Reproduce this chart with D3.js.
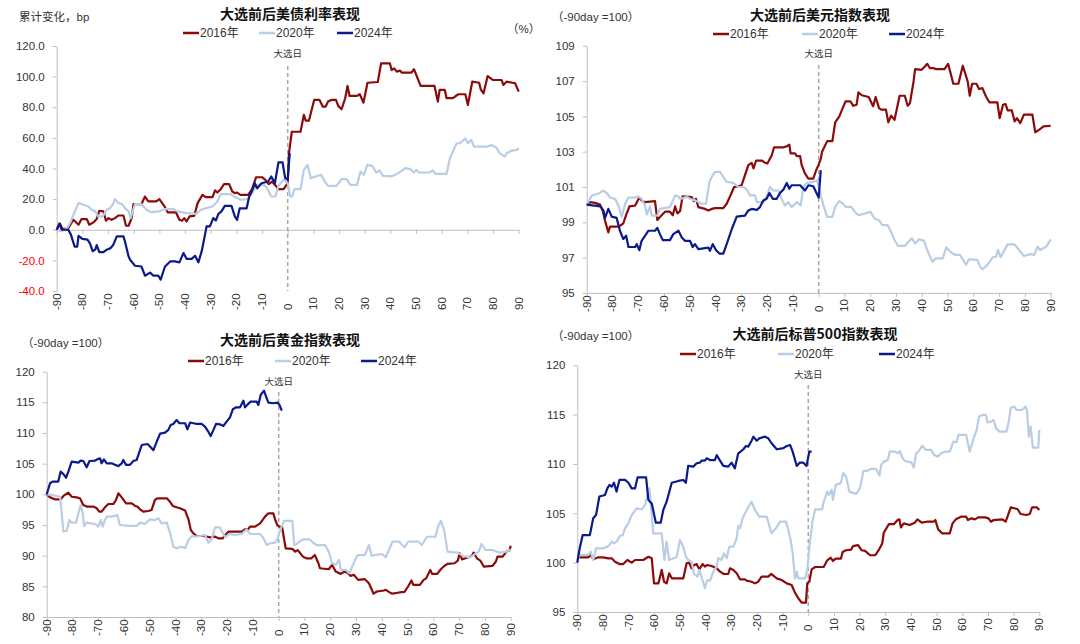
<!DOCTYPE html>
<html><head><meta charset="utf-8">
<script src="https://cdn.jsdelivr.net/npm/d3@7"></script>
<style>
body{margin:0;background:#fff;}
svg{display:block;}
</style></head>
<body><svg id="c" width="1080" height="644"></svg>
<script>
// ---------- DATA ----------
const dayTicks = [-90,-80,-70,-60,-50,-40,-30,-20,-10,0,10,20,30,40,50,60,70,80,90];
const seriesNames = ["2016年","2020年","2024年"];

const bondTicks = [-40,-20,0,20,40,60,80,100,120];
const bond2016 = [[-90,0],[-88.7,4],[-87.7,0.4],[-85.5,1],[-83.5,6.5],[-81.5,3.3],[-80.3,7],[-78.3,7],[-77.3,3.3],[-75.7,4.8],[-74.4,7],[-73.4,12.4],[-71.8,12],[-70.8,5.9],[-69.9,7.6],[-68.6,6.5],[-67.3,7.6],[-66,9.3],[-64,9.3],[-63,2.6],[-62,2.6],[-60.8,7.6],[-60.1,16.7],[-57,16.7],[-55.6,21.7],[-54.3,18.5],[-51.2,18.5],[-50,20],[-48,15.2],[-46.7,11.3],[-43.5,11.3],[-42.2,6.5],[-41.2,5.9],[-40.3,7.6],[-39.4,5.4],[-38.3,8.7],[-36.4,9.1],[-35.1,17.4],[-33.2,22.8],[-31.9,21.3],[-29.3,21.3],[-28.3,25.7],[-27.4,24.3],[-26.1,26.5],[-24.8,29.8],[-22.8,29.8],[-21.6,25],[-20.6,23.9],[-19.7,24.3],[-18.4,22.8],[-15.4,22.8],[-13.9,26.5],[-12.3,34.3],[-10,34.3],[-8.7,32.6],[-7.4,29.8],[-6.1,31.5],[-3.5,26.5],[-1.6,26.5],[0,30.4],[0.5,50],[1.6,64],[5,64],[6.3,75],[7,71.3],[8.3,71.3],[10.3,84.8],[12.4,84.8],[13.7,80.4],[14.8,80.4],[15.7,83.7],[17,84.8],[18.8,84.8],[19.7,80.9],[21,78.7],[22.4,85.9],[23.3,93.9],[24.1,87.4],[27,87.4],[28.1,88.5],[29.5,83],[31.1,96],[35.1,96.5],[36.4,108.7],[39.8,108.7],[40.5,104.3],[41.5,105.4],[42.5,103.3],[43.8,103.9],[44.5,102.6],[48.2,102.6],[49.2,104.8],[51.8,93.9],[57.2,93.9],[58.5,83.7],[59.2,91.3],[61.2,91.3],[61.9,85.9],[64.3,85.9],[65.2,87],[66.5,88.5],[69.2,88.5],[70.2,81.5],[71.9,96.7],[74.6,96],[75.2,91.7],[76.3,89.1],[77.9,100.4],[79.9,97.8],[83.3,97.8],[84,94.6],[85.3,96.7],[88.6,95.7],[90,90.2]];
const bond2020 = [[-90,0],[-88,-1],[-86,1],[-84.8,4.3],[-83.2,10.9],[-81.5,17.4],[-79.6,16.3],[-77.7,15.2],[-76.4,13],[-75,12],[-73.8,8.7],[-72.1,8.7],[-70.5,13],[-69.2,14.1],[-68.2,16.3],[-67.3,20],[-66,17.4],[-64.7,17],[-63.4,14.1],[-62,12],[-61.2,7.6],[-59.5,16.7],[-57,16.7],[-55,13],[-53.1,11.5],[-49.9,12],[-48,13.5],[-44.7,13.5],[-42.9,12],[-39.6,10.9],[-35.7,10.4],[-33.8,13],[-31.8,14.1],[-29.3,15.2],[-27.4,18.5],[-26.1,23.3],[-22.2,23.3],[-20.9,21.7],[-18.4,19.6],[-15.7,20],[-13.8,24.3],[-11.9,29.3],[-9.3,29.3],[-8.1,27.2],[-6.4,21.7],[-4.8,21.7],[-3.6,28.7],[-1.6,32.6],[0,30.4],[1,21.7],[1.7,21.7],[2.7,26.5],[5,26.5],[6.3,39],[7.7,42.4],[9,33.7],[13,35.9],[14.4,31.5],[15.7,28.7],[19,28.7],[21,33],[23,33],[24.4,29.3],[27,29.3],[28.4,38],[29.7,35.9],[31,42.4],[33,41.7],[34.4,37.4],[35.8,38.7],[37.1,35.2],[40.5,34.8],[43.1,37],[45.8,40.2],[47.8,39.6],[49.2,37.4],[50.1,39.1],[51.2,37.4],[55.2,37.4],[56.5,38.7],[57.6,36.5],[61.9,36.5],[63.2,46.7],[65.2,54.3],[65.9,56.5],[67.2,56.5],[69.2,59.8],[70.2,56.5],[71.5,58.7],[72.6,54.3],[77.9,54.3],[79.3,55.4],[81.3,53.7],[82.6,50],[84.6,47.8],[85.3,50],[87.3,51.7],[89.3,52.2],[90,53.3]];
const bond2024 = [[-90,0],[-89,4],[-88,0],[-85.5,0],[-84.5,-3],[-83,-11],[-82,-11],[-81.5,-4],[-80,-6],[-78,-6.5],[-77,-9],[-76,-14],[-75,-13],[-74.4,-10],[-73.4,-14.6],[-71.8,-14.6],[-70.5,-13],[-69,-12],[-68,-10],[-66.6,-4.3],[-64,-4.3],[-63.4,-7.6],[-62,-17.4],[-61.4,-19.6],[-59.5,-23.5],[-57,-24],[-55.6,-30],[-53.6,-28],[-52.3,-30],[-50.4,-30],[-49.5,-32.6],[-47.8,-24],[-45.8,-20.7],[-43.9,-20.7],[-42.2,-21.3],[-40.6,-15.2],[-39.4,-19],[-37.4,-19],[-36.1,-17],[-34.8,-21.3],[-33.5,-14],[-32.6,-6.5],[-31.6,2.2],[-30.3,2.2],[-29,7.6],[-28,6],[-27,10.4],[-25.8,12],[-24.5,15.6],[-21.9,15.6],[-20.6,8.7],[-19.7,6.5],[-18.7,14],[-16,14],[-15,21.7],[-14,25],[-12.8,30.4],[-11.9,27],[-10.2,30.4],[-7.6,31.5],[-6.4,34.8],[-5,30.4],[-3.6,44],[-2,44],[-1,33.7],[0,33],[0.8,50]];

const usdTicks = [95,97,99,101,103,105,107,109];
const usd2016 = [[-90,100],[-88.7,100.14],[-86.8,100.1],[-84.8,100],[-83.8,99.67],[-82.9,99.1],[-81.6,98.43],[-81,98.75],[-78.4,98.75],[-77.1,98.8],[-75.8,98.94],[-74.5,99.5],[-73.4,99.9],[-71.2,99.95],[-69.6,100.4],[-68.7,100.24],[-67.4,100.14],[-63.5,100.2],[-62.6,99.13],[-61.6,99.3],[-59.6,99.6],[-57.7,99.6],[-56.6,99.4],[-55.7,99.9],[-54.8,99.5],[-53.8,99.63],[-52.8,100.47],[-49.3,100.43],[-48.4,100.2],[-47.6,100.33],[-46.7,99.86],[-44.1,99.76],[-42.8,99.67],[-41.5,99.76],[-40.2,99.8],[-37,99.8],[-35.7,100.05],[-34.4,100.47],[-32.8,101],[-31.2,101.04],[-29.9,101.1],[-28.6,101.67],[-27.3,102.24],[-26,102.37],[-25.3,102.05],[-24.3,102.5],[-22.1,102.5],[-20.8,102.37],[-19.9,102.33],[-18.2,102.8],[-17.3,103.25],[-13.7,103.25],[-12.4,103.3],[-11.4,103.4],[-10.9,102.9],[-9.2,102.9],[-8.5,102.75],[-7.2,102.75],[-6.6,102.24],[-5.3,101.76],[-4,101.48],[-2.1,101.48],[-1,101.95],[-0.1,102.24],[0.8,102.6],[1.3,103],[3.3,103.6],[5.3,103.6],[6.4,104.66],[8,105],[10.4,105.85],[12.3,105.85],[13.4,105.6],[14.7,105.66],[15.4,106.36],[16.7,106.2],[19.4,106.1],[21.1,105.57],[22.1,106.1],[23.4,105.47],[24.3,105.38],[26.1,105.38],[27,104.66],[28.1,105.04],[29.4,104.8],[31.4,106.17],[33.4,106.17],[34.5,105.6],[35.4,105.75],[36.8,106.98],[37.4,107.68],[39.9,107.64],[41.2,107.83],[42.1,107.98],[43.1,107.74],[44.4,107.74],[45.5,107.68],[48.8,107.68],[50.2,107.98],[51.5,107.26],[52.2,106.85],[54.2,106.85],[55.9,107.87],[56.8,107.45],[57.8,106.98],[58.6,106.17],[59.5,106.85],[61.2,106.85],[62.2,106.55],[63.5,106.6],[64.9,106.13],[66.2,105.8],[69.3,105.8],[70.2,104.9],[71.5,105.66],[72.5,105.7],[73.3,105.34],[74.9,105.34],[76,104.72],[76.9,104.9],[78.2,104.62],[79.6,105.1],[82.9,105.1],[84,104.1],[85.6,104.25],[87.2,104.43],[90,104.47]];
const usd2020 = [[-90,100],[-88,100.52],[-85.5,100.62],[-83.5,100.8],[-82.2,100.66],[-80.9,100.4],[-79,100.33],[-77.7,99.95],[-76.4,99.32],[-75.1,100.05],[-73.8,100.4],[-71.2,100.4],[-70,100.47],[-68.7,100.33],[-67.4,99.95],[-66.7,99.44],[-65.4,99.9],[-64.8,99.38],[-62.6,99.38],[-61.6,99.76],[-57.7,99.86],[-55.7,100.52],[-54.4,100.47],[-53.8,100.33],[-51.2,100.43],[-49.9,100.33],[-47.3,100.2],[-45.4,100.05],[-43.7,100.05],[-42.4,101.29],[-41.5,101.57],[-40.2,101.86],[-38.3,101.86],[-37,101.57],[-35.7,101.29],[-33.1,101.23],[-31.2,101],[-29.2,101],[-27.9,100.85],[-26.6,100.52],[-24.7,100.52],[-24,100.14],[-21.5,100.14],[-20.2,100.47],[-18.9,101],[-17.6,100.8],[-15.6,100.8],[-14.4,100.33],[-13.1,99.95],[-11.8,100.14],[-10.5,99.86],[-8.5,100.14],[-7,99.95],[-5.9,101],[-4.7,101.23],[-2.1,101.29],[-0.5,101.38],[0.5,100.71],[2,99.87],[3.3,99.31],[5.3,99.31],[6.4,99.87],[8,100.2],[9.4,100.06],[10.4,99.87],[12.7,99.87],[14,99.6],[15.4,99.4],[18,99.5],[20.1,99.6],[21.7,99.2],[23.4,99.12],[24.7,98.84],[26.7,98.84],[28.1,98.46],[29.4,98],[30.8,97.66],[33.4,97.66],[34.5,97.85],[36.1,98.1],[37.4,97.8],[38.8,98.03],[40.8,97.96],[42.1,97.43],[44.1,96.77],[45.5,96.96],[48.1,96.96],[49.5,97.58],[51.5,97.28],[52.8,97.15],[54.8,97.15],[55.9,96.9],[57.2,96.59],[58.2,96.9],[61.5,96.87],[62.6,96.5],[63.5,96.34],[65.5,96.59],[67.5,97.02],[68.9,97.06],[69.5,97.43],[70.6,97.02],[71.5,97.28],[73.3,97.75],[76,97.75],[78.2,97.34],[79.6,97.09],[82.2,97.2],[83.6,97.15],[84.9,97.62],[85.9,97.43],[88.3,97.62],[90,98.03]];
const usd2024 = [[-90,100],[-84.8,99.9],[-83.5,99.67],[-82.9,99.25],[-81.6,99.76],[-80.3,99.32],[-78.4,99.25],[-77.1,98.52],[-75.8,98.05],[-74.7,98.24],[-73.8,97.6],[-71.2,97.6],[-70.6,97.76],[-69.6,97.42],[-68.7,97.95],[-66.1,98.52],[-63.5,98.52],[-62.6,98.68],[-61.6,98.33],[-60.5,97.99],[-57.7,97.99],[-56.4,98.33],[-54.4,98.52],[-53.1,98.14],[-51.9,97.95],[-49.9,97.95],[-48.9,97.6],[-48,97.76],[-46.7,97.48],[-42.8,97.57],[-42.2,97.38],[-41.1,97.76],[-39.8,97.42],[-38.5,97.23],[-37,97.23],[-35.7,97.76],[-33.7,98.62],[-31.8,99.32],[-28.6,99.38],[-27.3,99.67],[-26,99.76],[-24,99.7],[-22.8,99.86],[-21.5,100.24],[-20.2,100.33],[-19.1,100.66],[-17.8,100.33],[-16.3,100.33],[-15,100.66],[-13.7,100.85],[-12.4,101.23],[-11.4,100.9],[-10.5,101.1],[-7.2,101.1],[-6.6,101],[-5.3,100.8],[-4,101.1],[-2.1,101.04],[-1,100.7],[0,100.4],[0.8,101.95]];

const goldTicks = [80,85,90,95,100,105,110,115,120];
const gold2016 = [[-90,100],[-88.7,99.5],[-86.8,99.18],[-84.6,99.18],[-83.5,99.73],[-81.6,100.27],[-80.3,99.6],[-78.4,99.5],[-77.1,99.35],[-75.8,98.26],[-74.5,98],[-71.9,98],[-70.6,97.72],[-69.6,97.17],[-68.7,97.17],[-67.4,97.88],[-66.1,98.42],[-64.1,98.42],[-63.1,99.08],[-62.2,100.16],[-60.9,99.5],[-59.2,98.53],[-57,98.53],[-55.7,98.1],[-54.8,98],[-53.8,97.55],[-52.5,97.17],[-50.6,97.28],[-49.3,97.45],[-48,99.08],[-47.1,99.35],[-43.4,99.35],[-42.2,98.8],[-41.1,98.1],[-39.6,97.88],[-38.3,97.72],[-36.3,97.34],[-35,95.92],[-34.1,94.18],[-33.1,93.64],[-31.8,93.2],[-29.2,93.2],[-26.6,92.99],[-24.7,93.1],[-23.4,92.83],[-21.7,92.83],[-20.8,93.37],[-19.5,93.9],[-14.4,93.9],[-13.1,94.3],[-11.8,94.35],[-11.1,94.73],[-9.2,94.73],[-7.2,95.27],[-5.3,96.36],[-4,96.9],[-2.1,96.9],[-1.4,95.92],[-0.5,94.95],[0.3,94.73],[1.3,94.7],[2.7,91.2],[5.3,91.1],[6.4,90.65],[7.4,90.9],[9.4,89.84],[10.7,89.57],[12.7,89.57],[14,90.1],[15.4,88.76],[16,87.95],[19.4,87.78],[20.7,88.5],[22.1,87.4],[24.1,87.03],[25.4,87.4],[26.7,87.24],[27.8,86.7],[29.2,86.86],[30.8,86.05],[33.4,86.16],[35,85.5],[36.8,83.8],[38.1,84.16],[40.8,84.32],[41.5,84.43],[43.5,83.9],[44.1,83.8],[46.8,84],[48.8,84.1],[50.2,84.97],[51.5,85.95],[52.2,85.24],[54.8,85.24],[56.2,86.05],[57.2,86.3],[58.8,87.68],[59.5,87.03],[61.5,87.03],[62.9,87.78],[64.2,88.32],[65.5,88.65],[68.2,88.76],[69.5,89.2],[70.2,90.4],[71.1,89.4],[73.6,89.73],[74.9,89.95],[75.6,90.5],[76.9,89.57],[78.2,89.2],[79.6,88.2],[82.9,88.32],[84.2,89],[84.9,89.84],[86.9,89.84],[88.3,90.65],[89.6,90.9],[90,91.6]];
const gold2020 = [[-90,100],[-88,99.9],[-84.8,99.6],[-83.5,93.9],[-82.2,94.07],[-81.2,95.8],[-80.3,95.38],[-78.6,95.38],[-77.7,96.9],[-76.8,98.26],[-76,96.9],[-75.5,94.84],[-74.5,95.38],[-71.2,95.16],[-70,94.73],[-69,95.8],[-68.3,94.73],[-67.4,95.8],[-66.7,96.36],[-64.8,96.36],[-62.6,96.63],[-61.6,95],[-57.7,94.84],[-55.1,94.84],[-53.8,95.38],[-51.9,95.16],[-49.9,95.92],[-48,95.8],[-46.7,96.1],[-45.4,95.27],[-43.4,95.38],[-41.9,93.37],[-40.9,91.47],[-39.6,91.2],[-37.6,91.47],[-36.3,91.2],[-35,92.55],[-33.7,93.2],[-32.5,93.1],[-30.5,93.2],[-28.6,93.37],[-27.3,92.12],[-26,92.66],[-24.7,94.6],[-22.8,94.6],[-20.8,92.99],[-19.1,93.53],[-16.9,93.37],[-14.4,93.53],[-12.4,94.3],[-11.1,93.53],[-7.2,93.53],[-5.9,92.83],[-4.7,91.74],[-3.4,92],[-1.4,92.12],[-0.5,92.66],[0.4,93.9],[2,95.68],[5.3,95.68],[6,91.73],[7,91.9],[8,92.27],[9.4,92.65],[12,92.65],[13.4,92.1],[14.7,91.73],[18,91.73],[19.4,90.65],[20.7,88.76],[22.1,88.5],[23.4,89.3],[24.1,87.68],[26.1,87.68],[27.4,87.14],[28.8,88.5],[30.1,89.73],[30.8,90.1],[33.4,90.1],[35,91.73],[36.1,89.95],[37.4,90.1],[40.1,90.27],[41.5,89.73],[42.8,90.92],[44.1,92.27],[46.8,92.27],[48.8,91.35],[50.2,92.27],[54.2,92.27],[55.5,91.73],[57.5,93.08],[60.8,93.08],[61.8,94.7],[62.9,95.68],[64.2,94.16],[65.5,90.65],[69.5,90.5],[71.5,89.95],[74.2,89.73],[77.6,90.65],[78.7,91.9],[80.2,90.92],[82.9,90.92],[85.6,90.5],[88.3,90.65],[90,91]];
const gold2024 = [[-90,100],[-88.7,101.8],[-87.7,102.07],[-85.5,102.07],[-84.6,103.7],[-83.5,103.3],[-82.5,102.7],[-81.6,103.7],[-80.3,105.33],[-77.7,105.16],[-76.8,105.5],[-75.8,105.43],[-74.5,104.4],[-73.4,105.43],[-71.2,105.5],[-70.3,105.7],[-69.3,105.87],[-68.7,105.05],[-67.8,105.7],[-66.7,105.05],[-64.8,105.05],[-63.5,104.8],[-62.2,104.6],[-60.9,105.05],[-60.3,105.6],[-59.2,104.8],[-57.7,104.8],[-56.4,105.43],[-55.1,105.6],[-54,106.96],[-53.1,108.04],[-50.9,108.2],[-50.2,107.9],[-48.6,107.2],[-47.3,108.6],[-46,109.9],[-44.1,110.05],[-42.8,110.5],[-41.9,111.3],[-40.9,111.47],[-39.6,112.1],[-38.5,111.58],[-36.3,111.58],[-35.4,110.6],[-34.4,111.7],[-33.1,111.58],[-31.8,111.47],[-29.9,111.47],[-28.6,111.03],[-27.3,110.2],[-26.4,109.5],[-25.3,110.5],[-24.3,111.47],[-22.8,111.4],[-21.5,111.14],[-20.2,111.85],[-18.9,112.55],[-17.8,113.86],[-16.5,114.18],[-15,114.18],[-13.7,115.27],[-13.1,114.18],[-12.2,114.57],[-10.9,115.1],[-8.5,115.1],[-7.9,114.57],[-7,116.2],[-5.7,116.9],[-4.9,115.9],[-4,114.95],[-2.1,114.84],[-0.5,114.95],[0.3,114.57],[1.2,113.64]];

const spxTicks = [95,100,105,110,115,120];
const spx2016 = [[-90,100.54],[-85.7,100.54],[-84.8,100.78],[-83.8,100.34],[-81.8,100.54],[-79.9,100.54],[-77.9,100.44],[-76.6,100.44],[-75.3,100.1],[-73.6,99.86],[-72.1,99.86],[-70.5,100.27],[-68.8,100],[-67.5,100.27],[-64.3,100.27],[-62.3,100.6],[-61,100.44],[-60.1,97.9],[-58.4,97.9],[-57.1,99.26],[-56.2,98.07],[-55.2,97.9],[-54.2,98.92],[-53.2,98.41],[-48.7,98.41],[-47.4,99.93],[-46.4,100],[-45.5,99.43],[-44.5,99.76],[-43.5,99.86],[-42.5,99.32],[-41.2,99.86],[-40.3,99.6],[-39.4,99.76],[-37.7,99.66],[-35.7,99.43],[-34.4,99.09],[-32.9,98.85],[-31.2,98.85],[-30.5,99.43],[-29.2,99.26],[-27.9,98.92],[-26.6,98.31],[-24.7,98.31],[-24,98.18],[-22.1,98.07],[-20.8,97.9],[-19.5,98.07],[-18.2,98.58],[-15.6,98.58],[-14.5,98.85],[-13.4,98.65],[-12.3,98.41],[-10.4,98.24],[-8.4,97.9],[-6.5,97.74],[-5.2,96.96],[-3.9,96.39],[-2.6,95.95],[-0.9,95.95],[-0.4,97.9],[0.4,98.07],[1.3,99.32],[2.7,99.56],[6,99.56],[7.4,100.24],[8.7,100.5],[9.6,100.17],[10.7,100.4],[12.7,100.4],[13.4,101.09],[14.7,101.26],[16.7,101.33],[17.4,101.67],[19.4,101.77],[20.7,101.26],[22.1,101.2],[24.1,100.75],[26.1,100.75],[27.4,101.26],[28.8,101.94],[29.4,103.03],[31.4,103.91],[33.4,103.91],[34.8,104.32],[35.5,104.39],[36.1,103.57],[37.2,103.98],[39.5,103.81],[41.5,104.05],[42.5,104.39],[44.2,104.05],[46.2,104.15],[48.8,104.15],[49.5,104.32],[50.6,103.37],[52.2,102.96],[55.1,102.96],[56.2,103.98],[57.5,104.39],[59.5,104.66],[61.5,104.66],[62.2,104.32],[63.6,104.49],[64.9,104.39],[66.2,104.59],[68.9,104.59],[70.2,104.49],[71.2,104.15],[72.2,104.32],[75.6,104.39],[76.9,104.15],[78.9,105.61],[81.6,105.41],[82.7,104.93],[85,104.83],[86.3,104.93],[87.2,105.61],[89,105.61],[90,105.34]];
const spx2020 = [[-90,100.27],[-89,100.78],[-85.7,100.78],[-84.8,101.11],[-83.8,100.27],[-82.7,101.45],[-79.9,101.45],[-78.3,101.62],[-77.5,101.79],[-76.6,102.13],[-75.7,101.96],[-74.7,102.13],[-73.4,102.7],[-72.3,102.8],[-71.4,103.48],[-70.1,103.99],[-68.8,104.83],[-66.9,105.5],[-64.9,105.4],[-63.6,105.84],[-62.7,106.86],[-61.9,107.53],[-61.4,106],[-60.4,102.97],[-57.1,102.97],[-56.1,100.27],[-55.2,102.13],[-54.2,100.27],[-51.3,100.54],[-50,102.3],[-48.7,101.62],[-47.7,100.6],[-46.8,100.27],[-45.5,100.1],[-44.5,98.85],[-43.2,98.58],[-42.5,99.26],[-41.2,98.24],[-40.3,97.4],[-39.4,98.24],[-38.3,98.18],[-37,99.09],[-35.7,99.6],[-35.1,100.44],[-33.8,100.27],[-32.9,100.95],[-31.8,100.44],[-30.8,101.62],[-29.2,101.62],[-27.9,102.47],[-27.3,103.72],[-26.6,103.48],[-25.6,104.5],[-24,105.34],[-22.1,106.18],[-20.8,105.34],[-19.1,104.66],[-16.2,104.66],[-14.9,103.48],[-14.3,102.97],[-12.6,103.48],[-11,104.16],[-8.7,104.16],[-7.8,103.31],[-6.9,102.3],[-6.1,101.01],[-5.2,98.41],[-4.5,99.09],[-3.9,98.41],[-1.3,98.41],[-0.4,99.26],[0.6,101.96],[1.7,104.32],[2.7,105.4],[5.4,105.4],[6,106.19],[7.4,107.2],[8,106.87],[9.1,107.38],[9.6,106.36],[10.7,107.9],[12.7,108.06],[13.6,109.08],[14.7,108.74],[16,107.2],[18.7,106.97],[20.1,107.55],[21.5,109.3],[23,109.3],[24.4,109.5],[26.4,109.5],[27.7,108.82],[28.4,109.9],[29.4,110.24],[31,110.4],[31.7,111.25],[33.7,111.25],[35.1,111.08],[35.7,111.32],[36.7,110.57],[37.7,110.3],[40.1,110.17],[41.1,109.63],[42,111.08],[43.1,111.32],[44.4,111.86],[45.8,111.42],[47.8,111.42],[49.1,110.9],[50.4,110.74],[51.8,111.08],[53.1,111.25],[55.1,111.25],[56.5,112.26],[57.8,112.2],[58.5,112.94],[61.5,112.94],[62.9,111.25],[64.5,112.67],[65.6,113.45],[66.5,114.8],[67.8,114.97],[69.2,114.97],[69.8,114.22],[71.2,114.29],[72.2,114.46],[73.2,113.61],[74.5,113.28],[77.2,113.28],[78.1,114.29],[78.9,115.7],[80.3,115.81],[81.2,115.47],[83.2,115.47],[84.6,115.81],[85.2,115.47],[85.9,112.77],[86.6,113.78],[87.5,111.66],[89.6,111.66],[90,113.45]];
const spx2024 = [[-90,100],[-89.2,101.28],[-87.9,102.8],[-85.1,102.8],[-83.8,104.5],[-82.7,104.83],[-81.4,106.7],[-79.2,106.86],[-78.3,107.53],[-77.5,107.87],[-76.6,107.7],[-75.7,108.1],[-74.7,107.2],[-73.6,108.38],[-71.4,108.38],[-70.1,108.1],[-68.8,107.53],[-67.5,107.53],[-66.5,108.65],[-63.2,108.65],[-62.3,106.35],[-61,106],[-59.4,104.05],[-57.5,104.05],[-56.5,105.34],[-55.2,106.18],[-53.2,108.1],[-50.6,108.28],[-48.7,108.38],[-47.7,108.1],[-46.8,109.8],[-44.8,109.73],[-43.5,110.07],[-42.2,110.14],[-41.6,110.34],[-40.3,110.34],[-39.6,110.57],[-38.3,110.4],[-36.4,110.4],[-35.7,110.9],[-34.7,110.47],[-33.1,109.8],[-31.2,109.73],[-29.9,110.14],[-28.6,109.56],[-27.3,111.08],[-26.4,111.25],[-25.3,111.49],[-24.3,111.82],[-23.4,111.76],[-22.1,112.36],[-21.4,112.77],[-20.1,112.36],[-19.1,112.6],[-16.9,112.77],[-15.6,112.6],[-14.3,112.1],[-12.3,111.49],[-9.7,111.6],[-8.4,111.82],[-7.1,111.93],[-6.1,111.25],[-4.5,109.8],[-3.3,110.14],[-2,110.14],[-0.7,109.8],[0.4,111.25],[1.3,111.25]];

// ---------- STYLE / LAYOUT ----------
const colors = ["#8B0A0A","#B9CDE5","#0B1A8A"];
const latin = "'Liberation Sans', Arial, 'Noto Sans CJK SC', sans-serif";
const cjk = "'Noto Sans CJK SC', 'Liberation Sans', sans-serif";

const panels = [
  {title:"大选前后美债利率表现", titleX:290, titleY:14, note:"累计变化，bp", noteX:19, noteY:17,
   extra:"（%）", extraX:507, extraY:29, legY:33, legX:[183,259,337],
   x0:56.7, x1:518.7, yTop:46, yBot:291, domain:[-40,120], ticks:bondTicks, fmt:d=>d.toFixed(1), axisAt:0,
   markY:54, dashTop:66, data:[bond2016,bond2020,bond2024]},
  {title:"大选前后美元指数表现", titleX:820, titleY:15, note:"（-90day =100）", noteX:552, noteY:17,
   legY:34, legX:[713,802,889],
   x0:586.7, x1:1050.7, yTop:45.8, yBot:292.9, domain:[95,109], ticks:usdTicks, fmt:d=>d, axisAt:95,
   markY:54, dashTop:65, data:[usd2016,usd2020,usd2024]},
  {title:"大选前后黄金指数表现", titleX:290, titleY:340, note:"（-90day =100）", noteX:22, noteY:343,
   legY:361, legX:[188,275,361],
   x0:46.7, x1:510.7, yTop:371.6, yBot:617, domain:[80,120], ticks:goldTicks, fmt:d=>d, axisAt:80,
   markY:382, dashTop:392, data:[gold2016,gold2020,gold2024]},
  {title:"大选前后标普500指数表现", titleX:815, titleY:334, note:"（-90day =100）", noteX:552, noteY:336,
   legY:354, legX:[680,778,879],
   x0:577.3, x1:1039.3, yTop:365.3, yBot:612, domain:[95,120], ticks:spxTicks, fmt:d=>d, axisAt:95,
   markY:375, dashTop:385, data:[spx2016,spx2020,spx2024]}
];

const svg = d3.select("#c");
svg.append("rect").attr("width",1080).attr("height",644).attr("fill","#fff");
const axisColor = "#BFBFBF";

panels.forEach(p => {
  const g = svg.append("g");
  const x = d3.scaleLinear().domain([-90,90]).range([p.x0,p.x1]);
  const y = d3.scaleLinear().domain(p.domain).range([p.yBot,p.yTop]);

  // Y axis
  const gy = g.append("g").attr("transform",`translate(${p.x0},0)`)
    .call(d3.axisLeft(y).tickValues(p.ticks).tickSize(4).tickSizeOuter(0).tickPadding(8).tickFormat(p.fmt));
  gy.select(".domain").attr("stroke",axisColor).attr("stroke-width",1);
  gy.selectAll(".tick line").attr("stroke",axisColor);
  gy.selectAll(".tick text").attr("font-family",latin).attr("font-size",11.5)
    .attr("fill",d => d < 0 ? "#FF0000" : "#333");

  // X axis (line + ticks)
  const gx = g.append("g").attr("transform",`translate(0,${y(p.axisAt)})`)
    .call(d3.axisBottom(x).tickValues(dayTicks).tickSize(4).tickSizeOuter(0).tickFormat(""));
  gx.select(".domain").attr("stroke",axisColor).attr("stroke-width",1);
  gx.selectAll(".tick line").attr("stroke",axisColor);

  // X tick labels (rotated, at bottom)
  g.selectAll(".xl").data(dayTicks).enter().append("text")
    .attr("transform",d=>`translate(${x(d)+4},${p.yBot+19}) rotate(-90)`)
    .attr("text-anchor","start")
    .attr("font-family",latin).attr("font-size",11.5).attr("fill","#333")
    .text(d=>d);

  // election day dashed line
  g.append("line").attr("x1",x(0)).attr("x2",x(0)).attr("y1",p.dashTop).attr("y2",p.yBot)
    .attr("stroke","#A6A6A6").attr("stroke-width",1.5).attr("stroke-dasharray","4,3");
  g.append("text").attr("x",x(0)).attr("y",p.markY).attr("dy","0.35em").attr("text-anchor","middle")
    .attr("font-family",cjk).attr("font-size",9.5).attr("fill","#333").text("大选日");

  // series
  const line = d3.line().x(d=>x(d[0])).y(d=>y(d[1]));
  p.data.forEach((s,i) => {
    g.append("path").datum(s).attr("d",line).attr("fill","none")
      .attr("stroke",colors[i]).attr("stroke-width",2.2).attr("stroke-linejoin","round");
  });

  // title
  g.append("text").attr("x",p.titleX).attr("y",p.titleY).attr("dy","0.35em").attr("text-anchor","middle")
    .attr("font-family",cjk).attr("font-weight","bold").attr("font-size",14).attr("fill","#111").text(p.title);
  // note
  g.append("text").attr("x",p.noteX).attr("y",p.noteY).attr("dy","0.35em")
    .attr("font-family",latin).attr("font-size",11.5).attr("fill","#333").text(p.note);
  if (p.extra) g.append("text").attr("x",p.extraX).attr("y",p.extraY).attr("dy","0.35em")
    .attr("font-family",latin).attr("font-size",11.5).attr("fill","#333").text(p.extra);

  // legend
  seriesNames.forEach((n,i) => {
    const lx = p.legX[i];
    g.append("line").attr("x1",lx).attr("x2",lx+16).attr("y1",p.legY).attr("y2",p.legY)
      .attr("stroke",colors[i]).attr("stroke-width",2.5);
    g.append("text").attr("x",lx+17).attr("y",p.legY).attr("dy","0.35em")
      .attr("font-family",latin).attr("font-size",12).attr("fill","#333").text(n);
  });
});
</script>
</body></html>
